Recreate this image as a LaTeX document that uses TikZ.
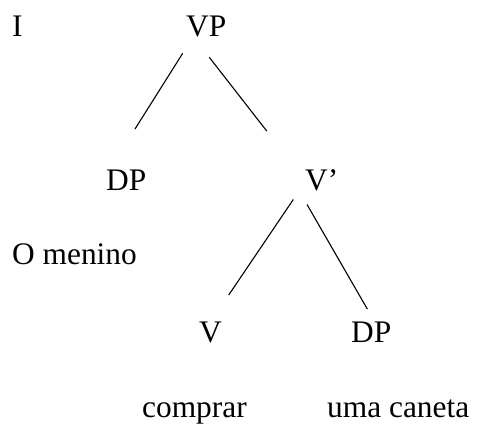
\documentclass[tikz,border=0pt]{standalone}
\usepackage{fontspec}
\setmainfont{Liberation Serif}
\begin{document}
\begin{tikzpicture}[x=1bp,y=-1bp,
  lbl/.style={anchor=base west,inner sep=0pt,font=\fontsize{31.5}{36}\selectfont},
  edge/.style={line width=1.1bp}]
\useasboundingbox (0,0) rectangle (477,426);
\node[lbl] (I) at (12,36) {I};
\node[lbl] (VP) at (186,36) {VP};
\node[lbl] (DP1) at (106,190) {DP};
\node[lbl] (Vbar) at (305,190) {V’};
\node[lbl] (subj) at (12,264) {O menino};
\node[lbl] (V) at (199,342) {V};
\node[lbl] (DP2) at (351,342) {DP};
\node[lbl] (comprar) at (142,417) {comprar};
\node[lbl] (obj) at (327,417) {uma caneta};
\coordinate (vpL) at (182.7,53.3);
\coordinate (dp1T) at (135,129);
\coordinate (vpR) at (209.3,57.3);
\coordinate (vbarT) at (266.7,131);
\coordinate (vbL) at (293.3,199.5);
\coordinate (vT) at (228.7,295);
\coordinate (vbR) at (307,204.5);
\coordinate (dp2T) at (367.3,309);
\draw[edge] (vpL) -- (dp1T);
\draw[edge] (vpR) -- (vbarT);
\draw[edge] (vbL) -- (vT);
\draw[edge] (vbR) -- (dp2T);
\end{tikzpicture}
\end{document}
